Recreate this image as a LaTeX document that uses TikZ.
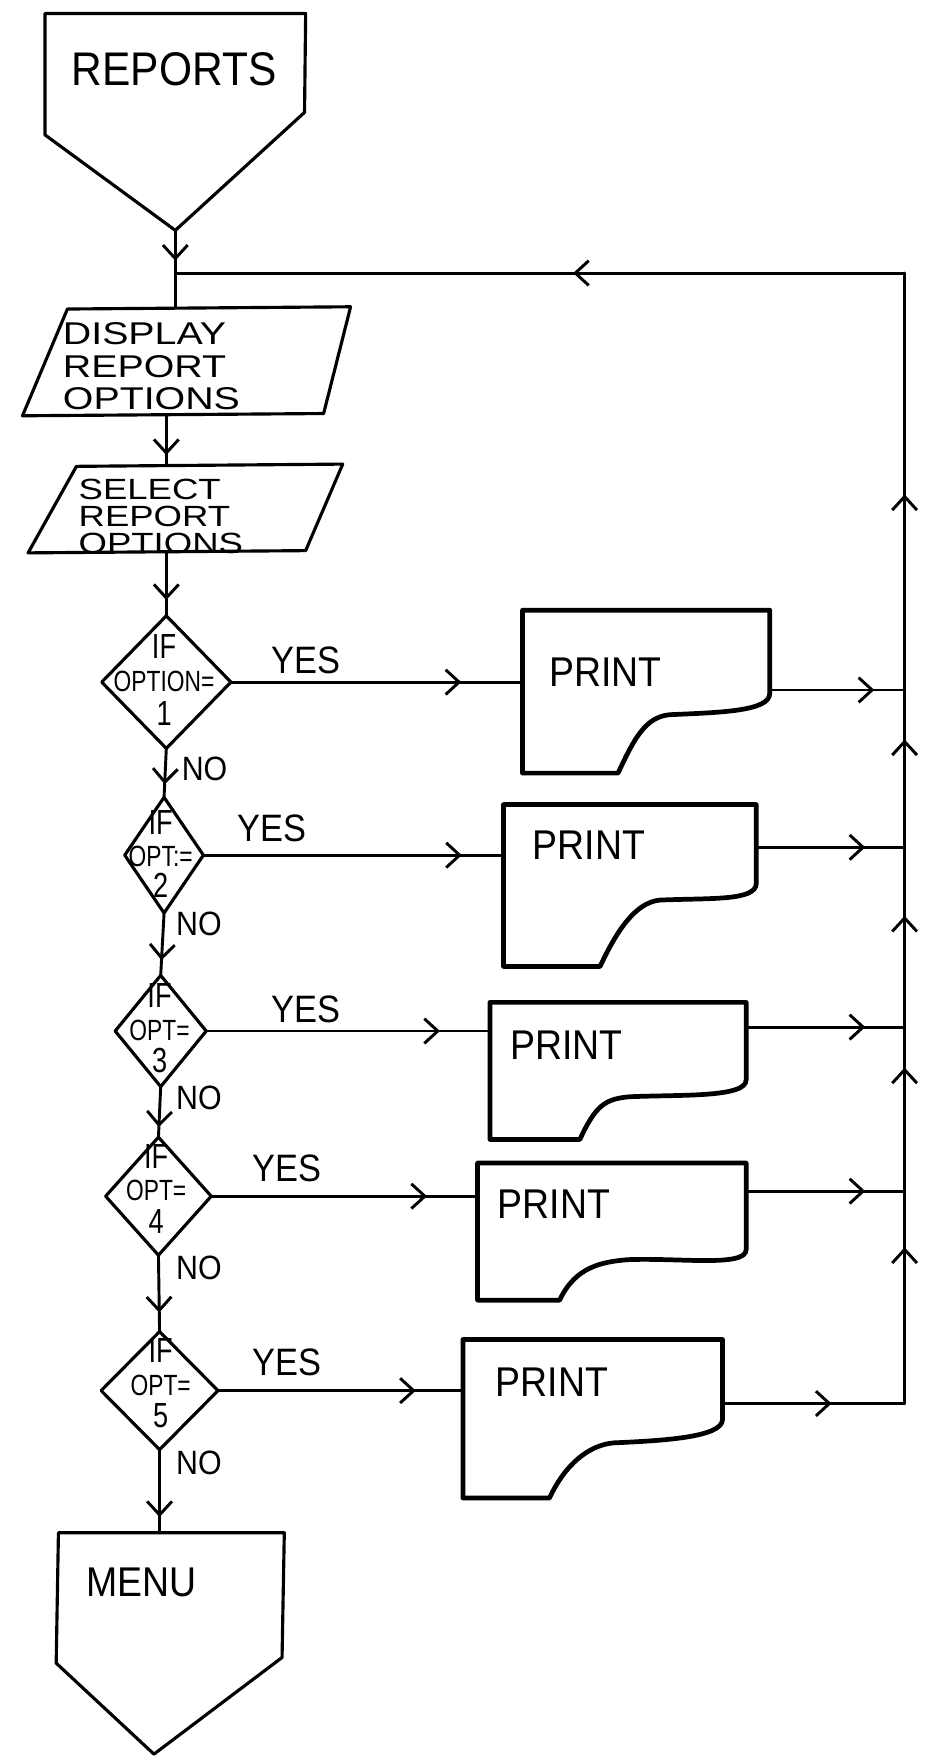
\documentclass[tikz,border=0pt]{standalone}
\usepackage{fontspec}
\setmainfont{Liberation Sans}
\newfontfamily\hand[FakeStretch=0.9]{Liberation Sans}
\newfontfamily\handnarrow[FakeStretch=0.78]{Liberation Sans}
\newfontfamily\handwide[FakeStretch=1.25]{Liberation Sans}
\usetikzlibrary{arrows.meta,shapes.geometric,decorations.markings,calc}

\newcommand\fs[1]{\fontsize{#1}{#1}\selectfont}
\newcommand\bigline[1]{{\fontsize{31}{31}\selectfont #1}}

% printed-report symbol: name, left, top, right, bottom,
% end of right edge, knee x, knee y, foot x
\newcommand\printsym[9]{%
  \node[frame, minimum width={(#4-#2)*1pt}, minimum height={(#5-#3)*1pt}]
    (#1) at ({(#2+#4)/2},{(#3+#5)/2}) {};
  \draw[heavy] (#1.south west) -- (#1.north west) -- (#1.north east) -- (#4,#6)
    .. controls (#4,#6+16) and (#7+45,#8-2) .. (#7,#8)
    .. controls (#7-22,#8+2) and (#9+14,#5-30) .. (#9,#5) -- cycle;
}

\begin{document}
\begin{tikzpicture}[x=1pt,y=-1pt,
  >={Straight Barb[length=12pt,width=22pt]},
  conn/.style={line width=2.6pt, line cap=round, line join=round},
  outline/.style={line width=2.8pt, line join=round},
  heavy/.style={line width=4.2pt, line join=round, line cap=round},
  arrowat/.style={postaction={decorate,decoration={markings,
      mark=at position #1 with {\arrow{>}}}}},
  frame/.style={inner sep=0pt, outer sep=0pt},
  decision/.style={diamond, draw, outline, inner sep=0pt, outer sep=0pt},
  lbl/.style={inner sep=0pt, outer sep=0pt},
  dtext/.style={lbl, align=center, font={\handnarrow\fontsize{26}{#1}\selectfont}},
]
\useasboundingbox (0,0) rectangle (823,1568);

% entry connector
\node[frame, minimum width=232pt, minimum height=193pt] (rep) at (156,108.5) {};
\draw[outline] (rep.north west) -- (rep.north east) -- (271,100) -- (rep.south)
  -- (40,120) -- cycle;
\node[lbl, font={\hand\fs{42}}] (reptxt) at (155,62) {REPORTS};

% input / output boxes
\node[frame, minimum width=292pt, minimum height=97pt] (disp) at (166,321.5) {};
\draw[outline] (disp.south west) -- (60,275) -- (disp.north east) -- (288,368) -- cycle;
\node[lbl, anchor=north west, align=left, font={\handwide\fontsize{28}{29}\selectfont}]
  (disptxt) at (56,287) {DISPLAY\\REPORT\\OPTIONS};

\node[frame, minimum width=280pt, minimum height=79pt] (sel) at (165,452.5) {};
\draw[outline] (sel.south west) -- (68,415) -- (sel.north east) -- (272,490) -- cycle;
\node[lbl, anchor=north west, align=left, font={\handwide\fontsize{26}{24}\selectfont}]
  (seltxt) at (70,426) {SELECT\\REPORT\\OPTIONS};

% decisions
\node[decision, minimum width=115pt, minimum height=118pt] (d1) at (148,607) {};
\node[decision, minimum width=70pt, minimum height=103pt] (d2) at (146,761) {};
\node[decision, minimum width=81pt, minimum height=99pt] (d3) at (143,917.5) {};
\node[decision, minimum width=94pt, minimum height=105pt] (d4) at (141,1064.5) {};
\node[decision, minimum width=104pt, minimum height=105pt] (d5) at (142,1237.5) {};

\node[dtext=30] (d1t) at (146,605) {\bigline{IF}\\OPTION=\\\bigline{1}};
\node[dtext=28] (d2t) at (143,760) {\bigline{IF}\\OPT:=\\\bigline{2}};
\node[dtext=29] (d3t) at (142,915) {\bigline{IF}\\OPT=\\\bigline{3}};
\node[dtext=29] (d4t) at (139,1058) {\bigline{IF}\\OPT=\\\bigline{4}};
\node[dtext=29] (d5t) at (143,1231) {\bigline{IF}\\OPT=\\\bigline{5}};

% printed reports
\printsym{p1}{465}{543}{685}{688}{617}{596}{636}{550}
\printsym{p2}{448}{716}{673}{860}{786}{587}{801}{534}
\printsym{p3}{436}{892}{664}{1014}{961}{560}{976}{516}
\printsym{p4}{425}{1035}{664}{1157}{1112}{558}{1121}{498}
\printsym{p5}{412}{1192}{643}{1333}{1263}{546}{1284}{489}

\node[lbl, font={\hand\fs{37}}] (pt1) at (539,598) {PRINT};
\node[lbl, font={\hand\fs{37}}] (pt2) at (524,752) {PRINT};
\node[lbl, font={\hand\fs{37}}] (pt3) at (504,930) {PRINT};
\node[lbl, font={\hand\fs{37}}] (pt4) at (493,1072) {PRINT};
\node[lbl, font={\hand\fs{37}}] (pt5) at (491,1230) {PRINT};

% exit connector
\node[frame, minimum width=201pt, minimum height=197pt] (menu) at (152.5,1462.5) {};
\draw[outline] (menu.north west) -- (menu.north east) -- (251,1475) -- (137,1561)
  -- (50,1480) -- cycle;
\node[lbl, font={\hand\fs{37}}] (menutxt) at (126,1408) {MENU};

% return line
\coordinate (tr) at (805,243);
\coordinate (e1) at (805,614);
\coordinate (e2) at (805,754);
\coordinate (e3) at (805,914);
\coordinate (e4) at (805,1060);
\coordinate (e5) at (805,1249);
\coordinate (j) at (rep.south |- tr);

\draw[conn, arrowat=27pt] (rep.south) -- (rep.south |- disp.north);
\draw[conn, arrowat=295pt] (tr) -- (j);
\draw[conn, arrowat=174pt] (e1) -- (tr);
\draw[conn, arrowat=96pt] (e2) -- (e1);
\draw[conn, arrowat=99pt] (e3) -- (e2);
\draw[conn, arrowat=110pt] (e4) -- (e3);
\draw[conn, arrowat=139pt] (e5) -- (e4);

% main column
\draw[conn, arrowat=35pt] (d1.north |- disp.south) -- (d1.north |- sel.north);
\draw[conn, arrowat=42pt] (d1.north |- sel.south) -- (d1.north);
\draw[conn, arrowat=32pt] (d1.south) -- (d2.north);
\draw[conn, arrowat=42pt] (d2.south) -- (d3.north);
\draw[conn, arrowat=36pt] (d3.south) -- (d4.north);
\draw[conn, arrowat=51pt] (d4.south) -- (d5.north);
\draw[conn, arrowat=60pt] (d5.south) -- (d5.south |- menu.north);

% YES branches
\draw[conn, arrowat=205pt] (d1.east) -- (d1.east -| p1.west);
\draw[conn, arrowat=230pt] (d2.east) -- (d2.east -| p2.west);
\draw[conn, arrowat=208pt] (d3.east) -- (d3.east -| p3.west);
\draw[conn, arrowat=192pt] (d4.east) -- (d4.east -| p4.west);
\draw[conn, arrowat=176pt] (d5.east) -- (d5.east -| p5.west);

% back to the return line
\draw[conn, arrowat=93pt] (e1 -| p1.east) -- (e1);
\draw[conn, arrowat=97pt] (e2 -| p2.east) -- (e2);
\draw[conn, arrowat=106pt] (e3 -| p3.east) -- (e3);
\draw[conn, arrowat=106pt] (e4 -| p4.east) -- (e4);
\draw[conn, arrowat=97pt] (e5 -| p5.east) -- (e5);

% branch labels
\node[lbl, font={\hand\fs{34}}] (y1) at (272,588) {YES};
\node[lbl, font={\hand\fs{34}}] (y2) at (242,737) {YES};
\node[lbl, font={\hand\fs{34}}] (y3) at (272,898) {YES};
\node[lbl, font={\hand\fs{34}}] (y4) at (255,1040) {YES};
\node[lbl, font={\hand\fs{34}}] (y5) at (255,1212) {YES};

\node[lbl, font={\hand\fs{30}}] (n1) at (182,684) {NO};
\node[lbl, font={\hand\fs{30}}] (n2) at (177,822) {NO};
\node[lbl, font={\hand\fs{30}}] (n3) at (177,977) {NO};
\node[lbl, font={\hand\fs{30}}] (n4) at (177,1128) {NO};
\node[lbl, font={\hand\fs{30}}] (n5) at (177,1302) {NO};
\end{tikzpicture}
\end{document}
